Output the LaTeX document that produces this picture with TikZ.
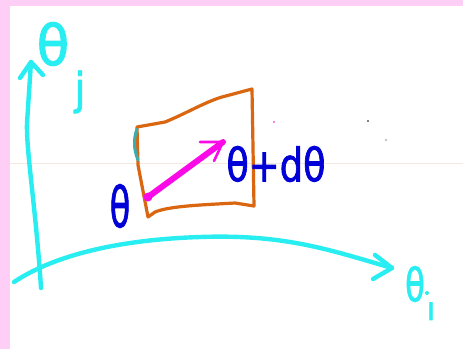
\documentclass[tikz,border=0pt]{standalone}
\usepackage{fontspec}
\setmainfont{DejaVu Sans}
\newfontfamily\handfont[FakeBold=1.8]{DejaVu Sans}
\definecolor{pinkbg}{RGB}{255,206,246}
\definecolor{axcyan}{RGB}{40,238,242}
\definecolor{boxorange}{RGB}{218,102,16}
\definecolor{vecmag}{RGB}{250,10,230}
\definecolor{txtblue}{RGB}{0,0,215}
\definecolor{edgeteal}{RGB}{60,172,175}
\definecolor{faint}{RGB}{246,232,222}
\tikzset{
  axis/.style={draw=axcyan, line width=4.4pt, line cap=round, line join=round},
  quad/.style={draw=boxorange, line width=3.2pt, line cap=round, line join=round},
  vec/.style={draw=vecmag, line width=6pt, line cap=round, line join=round},
  lab/.style={inner sep=0pt, text=axcyan},
  blab/.style={inner sep=0pt, text=txtblue},
}
\begin{document}
\begin{tikzpicture}[x=1pt,y=-1pt]
\useasboundingbox (0,0) rectangle (463,349);
\fill[pinkbg] (0,0) rectangle (463,349);
\fill[white] (10,6) rectangle (463,349);
\draw[faint, line width=0.6pt] (10,163) -- (463,163);
% coordinates
\coordinate (vbot) at (41,288);
\coordinate (vmid) at (27,123);
\coordinate (vtop) at (31,62);
\coordinate (vl) at (20,78);
\coordinate (vr) at (43,75);
\coordinate (hleft) at (14,282);
\coordinate (hmid) at (200,237);
\coordinate (hright) at (392,268);
\coordinate (hu) at (375,255);
\coordinate (hd) at (373,279);
% vertical axis
\draw[axis] (vbot) .. controls (36,210) and (26,150) .. (vmid) -- (vtop);
\draw[axis] (vl) -- (vtop) -- (vr);
% horizontal axis
\draw[axis] (hleft) .. controls (50,258) and (110,240) .. (hmid) .. controls (285,234) and (330,250) .. (hright);
\draw[axis] (hu) -- (hright) -- (hd);
% quadrilateral
\coordinate (qa) at (137,127);
\coordinate (qb) at (252,89);
\coordinate (qc) at (254,206);
\coordinate (qd) at (148,217);
\draw[quad] (qa) -- (165,122) .. controls (185,114) and (205,102) .. (222,97) -- (qb) -- (qc) -- (235,203) .. controls (200,205) and (170,206) .. (155,212) -- (qd) -- (138,165) -- cycle;
\draw[edgeteal, line width=3pt, line cap=round] (137,129) .. controls (133,140) and (134,150) .. (138,160);
% vector
\coordinate (vs) at (148,197);
\coordinate (ve) at (223,142);
\draw[vec] (vs) -- (ve);
\draw[vecmag, line width=2.6pt, line cap=round, line join=round] (200,142) -- (ve) -- (214,161);
\fill[vecmag] (vs) circle (4.5pt);
% labels
\node[lab, font=\handfont\fontsize{56}{56}\selectfont, xscale=0.95] (thj) at (53,44) {θ};
\node[lab, font=\handfont\fontsize{44}{44}\selectfont, xscale=0.9] (jsub) at (80,92) {j};
\node[lab, font=\handfont\fontsize{46}{46}\selectfont, xscale=0.7] (thi) at (415,284) {θ};
\node[lab, font=\handfont\fontsize{32}{32}\selectfont] (isub) at (431,311) {ı};
\fill[axcyan] (427,293) circle (2pt);
\node[blab, font=\handfont\fontsize{56}{56}\selectfont, xscale=0.6] (th) at (120,206) {θ};
\node[blab, font=\handfont\fontsize{46}{46}\selectfont, xscale=0.8] (thd) at (276,164) {θ+dθ};
% dots
\fill[vecmag] (274,122) circle (0.8pt);
\fill[black] (368,121) circle (0.8pt);
\fill[black] (386,140) circle (0.6pt);
\end{tikzpicture}
\end{document}
